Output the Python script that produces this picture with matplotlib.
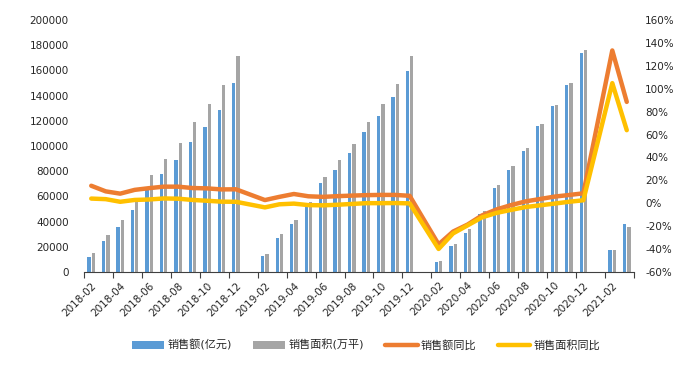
import matplotlib
matplotlib.use('Agg')
import numpy as np
import matplotlib.pyplot as plt
from matplotlib.ticker import FuncFormatter

plt.rcParams['font.family'] = ['DejaVu Sans', 'Noto Sans CJK SC']

# monthly cumulative data (Jan is merged into Feb, so no January points)
months = ['2018-02', '2018-03', '2018-04', '2018-05', '2018-06', '2018-07', '2018-08',
          '2018-09', '2018-10', '2018-11', '2018-12',
          '2019-02', '2019-03', '2019-04', '2019-05', '2019-06', '2019-07', '2019-08',
          '2019-09', '2019-10', '2019-11', '2019-12',
          '2020-02', '2020-03', '2020-04', '2020-05', '2020-06', '2020-07', '2020-08',
          '2020-09', '2020-10', '2020-11', '2020-12',
          '2021-02', '2021-03']

sales_amount = [12298, 24614, 35830, 49138, 66945, 78039, 89200, 103400, 115300, 128800, 149973,
                12803, 27039, 38300, 51773, 70698, 81300, 94800, 111300, 124000, 139000, 159725,
                8203, 20365, 31000, 45669, 66895, 81000, 96000, 115647, 131400, 148500, 173613,
                17648, 38378]

sales_area = [14768, 29057, 41431, 56400, 77143, 89500, 102556, 118840, 133000, 148604, 171654,
              14102, 29829, 41658, 55518, 75786, 88760, 101849, 119179, 133251, 148905, 171558,
              8475, 21978, 33973, 48093, 69404, 83885, 98486, 117073, 132700, 150300, 176086,
              17363, 36007]

amount_yoy = [15.3, 10.4, 8.4, 11.7, 13.2, 14.5, 14.5, 13.3, 13.0, 12.1, 12.2,
              2.8, 5.6, 8.1, 6.1, 5.6, 6.2, 6.7, 7.1, 7.3, 7.3, 6.5,
              -35.9, -24.7, -18.6, -10.6, -5.4, -1.6, 1.6, 3.7, 5.8, 7.2, 8.7,
              133.4, 88.5]

area_yoy = [4.1, 3.6, 1.3, 2.9, 3.3, 4.2, 4.0, 2.9, 2.2, 1.4, 1.3,
            -3.6, -0.9, -0.3, -1.6, -1.8, -1.3, -0.6, 0.1, 0.1, 0.2, -0.1,
            -39.9, -26.3, -19.3, -12.3, -8.4, -5.8, -3.3, -1.8, -0.3, 1.3, 2.6,
            104.9, 63.8]

# category axis is every calendar month from 2018-02 to 2021-03 (January slots stay empty)
n_cat = (2021 - 2018) * 12 + (3 - 2) + 1
all_labels = []
for k in range(n_cat):
    y = 2018 + (k + 1) // 12
    m = (k + 1) % 12 + 1
    all_labels.append('%d-%02d' % (y, m))
pos = np.array([all_labels.index(s) for s in months])

fig = plt.figure(figsize=(6.91, 3.66), dpi=100)
ax = fig.add_axes([84 / 691, 1 - 272 / 366, 550 / 691, 252 / 366])
ax2 = ax.twinx()

w = 0.23
b1 = ax.bar(pos - 0.15, sales_amount, width=w, color='#5B9BD5', label='销售额(亿元)')
b2 = ax.bar(pos + 0.15, sales_area, width=w, color='#A5A5A5', label='销售面积(万平)')
l1, = ax2.plot(pos, amount_yoy, color='#ED7D31', lw=3.2, solid_joinstyle='round',
               solid_capstyle='round', label='销售额同比')
l2, = ax2.plot(pos, area_yoy, color='#FFC000', lw=3.2, solid_joinstyle='round',
               solid_capstyle='round', label='销售面积同比')

ax.set_xlim(-0.5, n_cat - 0.5)
ax.set_ylim(0, 200000)
ax.set_yticks(np.arange(0, 200001, 20000))
ax2.set_ylim(-60, 160)
ax2.set_yticks(np.arange(-60, 161, 20))
ax2.yaxis.set_major_formatter(FuncFormatter(lambda v, p: '%d%%' % v))

ax.set_xticks(np.arange(0, n_cat, 2))
ax.set_xticklabels(all_labels[::2], rotation=45, ha='right', rotation_mode='anchor')
ax.set_xticks(np.arange(-0.5, n_cat, 2), minor=True)
ax.tick_params(axis='x', which='major', length=0, pad=6, labelsize=7.5, colors='#262626')
ax.tick_params(axis='x', which='minor', length=4, width=0.8, color='#404040')
ax.tick_params(axis='y', length=0, pad=11, labelsize=7.5, colors='#262626')
ax2.tick_params(axis='y', length=0, pad=8, labelsize=7.5, colors='#262626')

for s in ['top', 'left', 'right']:
    ax.spines[s].set_visible(False)
    ax2.spines[s].set_visible(False)
ax2.spines['bottom'].set_visible(False)
ax.spines['bottom'].set_color('#404040')
ax.spines['bottom'].set_linewidth(0.8)

fig.legend([b1, b2, l1, l2], ['销售额(亿元)', '销售面积(万平)', '销售额同比', '销售面积同比'],
           loc='center', bbox_to_anchor=(366 / 691, 1 - 345 / 366), ncol=4, frameon=False,
           fontsize=8, handlelength=2.9, handletextpad=0.3, columnspacing=1.9,
           labelcolor='#262626')

fig.savefig('out.png', dpi=100)
